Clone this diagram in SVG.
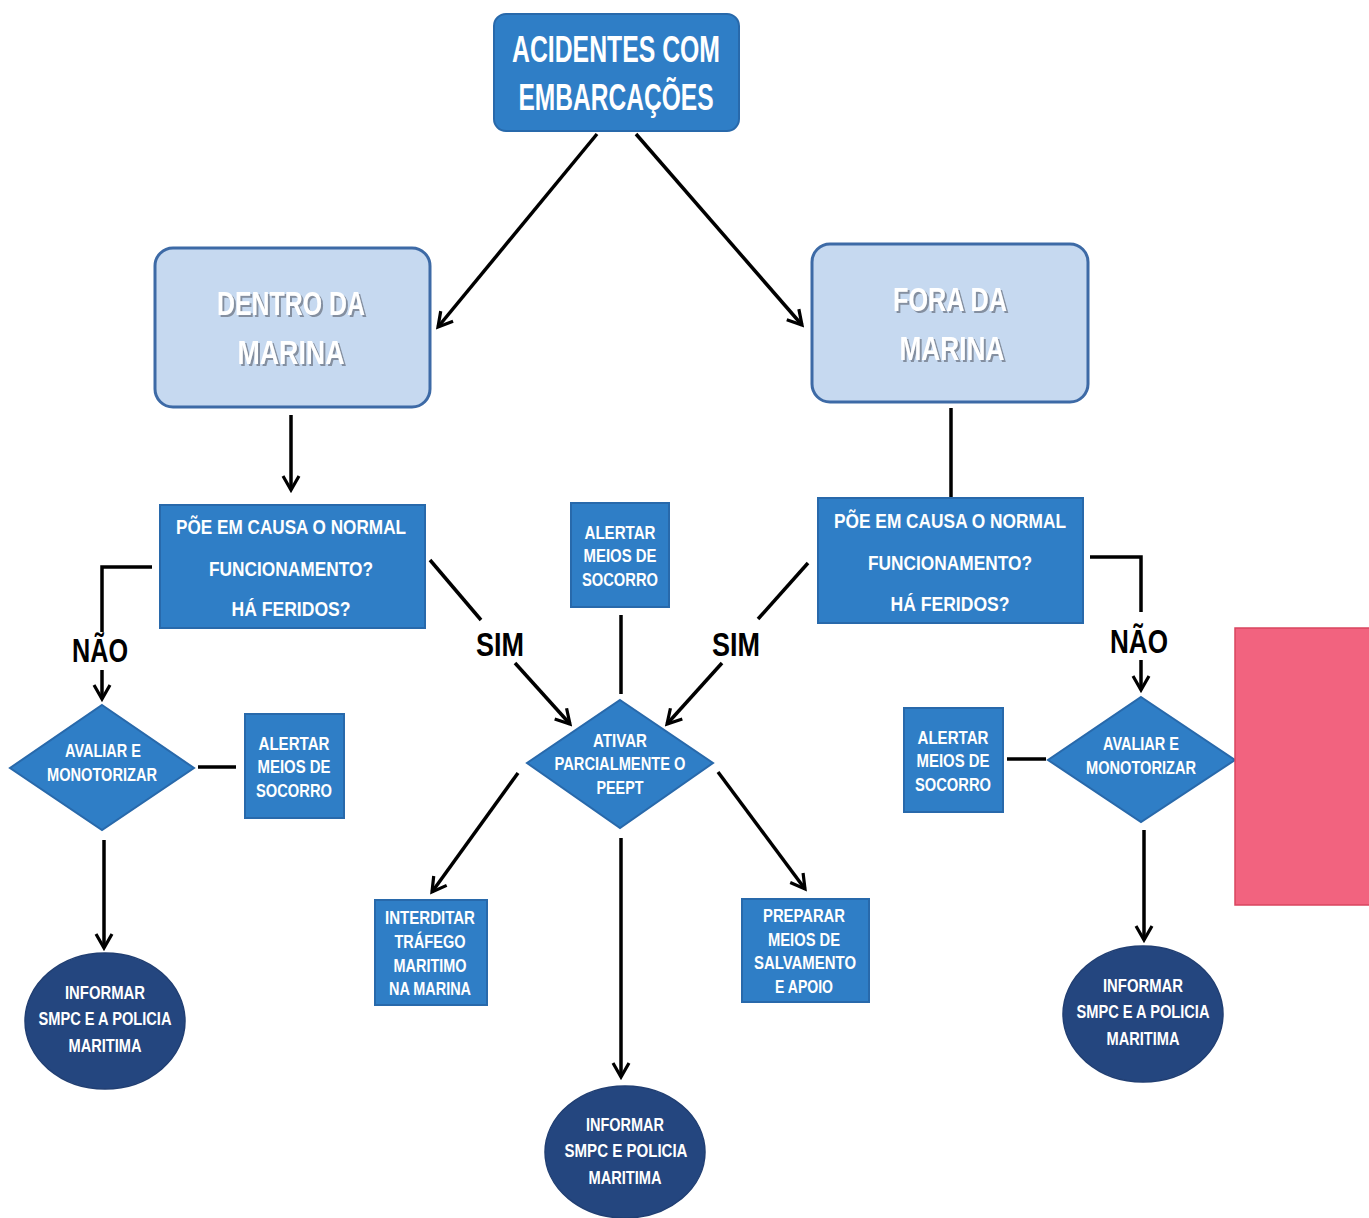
<svg xmlns="http://www.w3.org/2000/svg" width="1369" height="1218" viewBox="0 0 1369 1218">
  <defs>
    <marker id="arrow" viewBox="0 0 20 20" refX="17" refY="10" markerWidth="20" markerHeight="20" markerUnits="userSpaceOnUse" orient="auto">
      <path d="M3,2 L17,10 L3,18" fill="none" stroke="#000" stroke-width="3.2" stroke-linejoin="miter"/>
    </marker>
    <filter id="shadow" x="-10%" y="-20%" width="130%" height="150%">
      <feDropShadow dx="2" dy="2" stdDeviation="0.6" flood-color="#7d8797" flood-opacity="0.9"/>
    </filter>
  </defs>
  <style>
    .blue { fill: #2f7ec6; stroke: #2869ab; stroke-width: 2; }
    .light { fill: #c6d9f0; stroke: #3d6aa6; stroke-width: 3; }
    .navy { fill: #24467f; stroke: #213f73; stroke-width: 1.5; }
    .pink { fill: #f2637f; stroke: #d9455f; stroke-width: 1.5; }
    text { font-family: "Liberation Sans Narrow", "Liberation Sans", Arial, sans-serif; font-weight: bold; fill: #ffffff; text-anchor: middle; }
    .title { font-size: 36px; }
    .place { font-size: 34px; fill: #ffffff; }
    .q { font-size: 21px; }
    .s { font-size: 18px; }
    .lbl { font-size: 34px; fill: #000000; }
    .c { stroke: #000; stroke-width: 3.5; fill: none; }
  </style>

  <rect width="1369" height="1218" fill="#ffffff"/>

  <!-- connectors -->
  <g id="connectors">
    <line class="c" x1="597" y1="134" x2="438" y2="327" marker-end="url(#arrow)"/>
    <line class="c" x1="636" y1="134" x2="802" y2="325" marker-end="url(#arrow)"/>
    <line class="c" x1="291" y1="415" x2="291" y2="490" marker-end="url(#arrow)"/>
    <line class="c" x1="951" y1="408" x2="951" y2="499"/>
    <polyline class="c" points="152,567 102,567 102,632"/>
    <line class="c" x1="102" y1="670" x2="102" y2="699" marker-end="url(#arrow)"/>
    <line class="c" x1="236" y1="767" x2="198" y2="767"/>
    <line class="c" x1="104" y1="840" x2="104" y2="948" marker-end="url(#arrow)"/>
    <line class="c" x1="430" y1="560" x2="481" y2="620"/>
    <line class="c" x1="515" y1="663" x2="570" y2="724" marker-end="url(#arrow)"/>
    <line class="c" x1="621" y1="615" x2="621" y2="694"/>
    <line class="c" x1="808" y1="563" x2="758" y2="619"/>
    <line class="c" x1="722" y1="663" x2="667" y2="724" marker-end="url(#arrow)"/>
    <line class="c" x1="518" y1="773" x2="432" y2="892" marker-end="url(#arrow)"/>
    <line class="c" x1="718" y1="772" x2="805" y2="889" marker-end="url(#arrow)"/>
    <line class="c" x1="621" y1="838" x2="621" y2="1077" marker-end="url(#arrow)"/>
    <polyline class="c" points="1090,557 1141,557 1141,612"/>
    <line class="c" x1="1141" y1="660" x2="1141" y2="690" marker-end="url(#arrow)"/>
    <line class="c" x1="1007" y1="759" x2="1046" y2="759"/>
    <line class="c" x1="1144" y1="830" x2="1144" y2="940" marker-end="url(#arrow)"/>
    <text class="lbl" x="100" y="662" textLength="56" lengthAdjust="spacingAndGlyphs">NÃO</text>
    <text class="lbl" x="500" y="656" textLength="48" lengthAdjust="spacingAndGlyphs">SIM</text>
    <text class="lbl" x="736" y="656" textLength="48" lengthAdjust="spacingAndGlyphs">SIM</text>
    <text class="lbl" x="1139" y="653" textLength="58" lengthAdjust="spacingAndGlyphs">NÃO</text>
  </g>

  <g id="acidentes">
    <rect class="blue" x="494" y="14" width="245" height="117" rx="12"/>
    <text class="title" x="616" y="62" textLength="208" lengthAdjust="spacingAndGlyphs">ACIDENTES COM</text>
    <text class="title" x="616" y="110" textLength="195" lengthAdjust="spacingAndGlyphs">EMBARCAÇÕES</text>
  </g>

  <g id="dentro">
    <rect class="light" x="155" y="248" width="275" height="159" rx="18"/>
    <text class="place" x="291" y="315" textLength="148" lengthAdjust="spacingAndGlyphs" filter="url(#shadow)">DENTRO DA</text>
    <text class="place" x="291" y="364" textLength="107" lengthAdjust="spacingAndGlyphs" filter="url(#shadow)">MARINA</text>
  </g>

  <g id="fora">
    <rect class="light" x="812" y="244" width="276" height="158" rx="18"/>
    <text class="place" x="950" y="311" textLength="114" lengthAdjust="spacingAndGlyphs" filter="url(#shadow)">FORA DA</text>
    <text class="place" x="952" y="360" textLength="105" lengthAdjust="spacingAndGlyphs" filter="url(#shadow)">MARINA</text>
  </g>

  <g id="pergunta-dentro">
    <rect class="blue" x="160" y="505" width="265" height="123"/>
    <text class="q" x="291" y="534" textLength="230" lengthAdjust="spacingAndGlyphs">PÕE EM CAUSA O NORMAL</text>
    <text class="q" x="291" y="576" textLength="164" lengthAdjust="spacingAndGlyphs">FUNCIONAMENTO?</text>
    <text class="q" x="291" y="616" textLength="119" lengthAdjust="spacingAndGlyphs">HÁ FERIDOS?</text>
  </g>

  <g id="pergunta-fora">
    <rect class="blue" x="818" y="498" width="265" height="125"/>
    <text class="q" x="950" y="528" textLength="232" lengthAdjust="spacingAndGlyphs">PÕE EM CAUSA O NORMAL</text>
    <text class="q" x="950" y="570" textLength="164" lengthAdjust="spacingAndGlyphs">FUNCIONAMENTO?</text>
    <text class="q" x="950" y="611" textLength="119" lengthAdjust="spacingAndGlyphs">HÁ FERIDOS?</text>
  </g>

  <g id="alertar-centro">
    <rect class="blue" x="571" y="503" width="98" height="104"/>
    <text class="s" x="620" y="539" textLength="71" lengthAdjust="spacingAndGlyphs">ALERTAR</text>
    <text class="s" x="620" y="562" textLength="73" lengthAdjust="spacingAndGlyphs">MEIOS DE</text>
    <text class="s" x="620" y="586" textLength="76" lengthAdjust="spacingAndGlyphs">SOCORRO</text>
  </g>

  <g id="avaliar-dentro">
    <polygon class="blue" points="102,705 194,768 102,830 10,768"/>
    <text class="s" x="103" y="757" textLength="76" lengthAdjust="spacingAndGlyphs">AVALIAR E</text>
    <text class="s" x="102" y="781" textLength="110" lengthAdjust="spacingAndGlyphs">MONOTORIZAR</text>
  </g>

  <g id="alertar-dentro">
    <rect class="blue" x="245" y="714" width="99" height="104"/>
    <text class="s" x="294" y="750" textLength="71" lengthAdjust="spacingAndGlyphs">ALERTAR</text>
    <text class="s" x="294" y="773" textLength="73" lengthAdjust="spacingAndGlyphs">MEIOS DE</text>
    <text class="s" x="294" y="797" textLength="76" lengthAdjust="spacingAndGlyphs">SOCORRO</text>
  </g>

  <g id="ativar">
    <polygon class="blue" points="620,700 713,763 620,828 527,763"/>
    <text class="s" x="620" y="747" textLength="54" lengthAdjust="spacingAndGlyphs">ATIVAR</text>
    <text class="s" x="620" y="770" textLength="131" lengthAdjust="spacingAndGlyphs">PARCIALMENTE O</text>
    <text class="s" x="620" y="794" textLength="47" lengthAdjust="spacingAndGlyphs">PEEPT</text>
  </g>

  <g id="interditar">
    <rect class="blue" x="375" y="900" width="112" height="105"/>
    <text class="s" x="430" y="924" textLength="90" lengthAdjust="spacingAndGlyphs">INTERDITAR</text>
    <text class="s" x="430" y="948" textLength="71" lengthAdjust="spacingAndGlyphs">TRÁFEGO</text>
    <text class="s" x="430" y="972" textLength="73" lengthAdjust="spacingAndGlyphs">MARITIMO</text>
    <text class="s" x="430" y="995" textLength="82" lengthAdjust="spacingAndGlyphs">NA MARINA</text>
  </g>

  <g id="preparar">
    <rect class="blue" x="742" y="899" width="127" height="103"/>
    <text class="s" x="804" y="922" textLength="82" lengthAdjust="spacingAndGlyphs">PREPARAR</text>
    <text class="s" x="804" y="946" textLength="72" lengthAdjust="spacingAndGlyphs">MEIOS DE</text>
    <text class="s" x="805" y="969" textLength="102" lengthAdjust="spacingAndGlyphs">SALVAMENTO</text>
    <text class="s" x="804" y="993" textLength="58" lengthAdjust="spacingAndGlyphs">E APOIO</text>
  </g>

  <g id="avaliar-fora">
    <polygon class="blue" points="1141,697 1235,760 1141,822 1048,760"/>
    <text class="s" x="1141" y="750" textLength="76" lengthAdjust="spacingAndGlyphs">AVALIAR E</text>
    <text class="s" x="1141" y="774" textLength="110" lengthAdjust="spacingAndGlyphs">MONOTORIZAR</text>
  </g>

  <g id="alertar-fora">
    <rect class="blue" x="904" y="708" width="99" height="104"/>
    <text class="s" x="953" y="744" textLength="71" lengthAdjust="spacingAndGlyphs">ALERTAR</text>
    <text class="s" x="953" y="767" textLength="73" lengthAdjust="spacingAndGlyphs">MEIOS DE</text>
    <text class="s" x="953" y="791" textLength="76" lengthAdjust="spacingAndGlyphs">SOCORRO</text>
  </g>

  <g id="informar-dentro">
    <ellipse class="navy" cx="105" cy="1021" rx="80" ry="68"/>
    <text class="s" x="105" y="999" textLength="80" lengthAdjust="spacingAndGlyphs">INFORMAR</text>
    <text class="s" x="105" y="1025" textLength="133" lengthAdjust="spacingAndGlyphs">SMPC E A POLICIA</text>
    <text class="s" x="105" y="1052" textLength="73" lengthAdjust="spacingAndGlyphs">MARITIMA</text>
  </g>

  <g id="informar-centro">
    <ellipse class="navy" cx="625" cy="1152" rx="80" ry="66"/>
    <text class="s" x="625" y="1131" textLength="78" lengthAdjust="spacingAndGlyphs">INFORMAR</text>
    <text class="s" x="626" y="1157" textLength="123" lengthAdjust="spacingAndGlyphs">SMPC E POLICIA</text>
    <text class="s" x="625" y="1184" textLength="73" lengthAdjust="spacingAndGlyphs">MARITIMA</text>
  </g>

  <g id="informar-fora">
    <ellipse class="navy" cx="1143" cy="1014" rx="80" ry="68"/>
    <text class="s" x="1143" y="992" textLength="80" lengthAdjust="spacingAndGlyphs">INFORMAR</text>
    <text class="s" x="1143" y="1018" textLength="133" lengthAdjust="spacingAndGlyphs">SMPC E A POLICIA</text>
    <text class="s" x="1143" y="1045" textLength="73" lengthAdjust="spacingAndGlyphs">MARITIMA</text>
  </g>

  <rect id="bloco-rosa" class="pink" x="1235" y="628" width="136" height="277"/>
</svg>
